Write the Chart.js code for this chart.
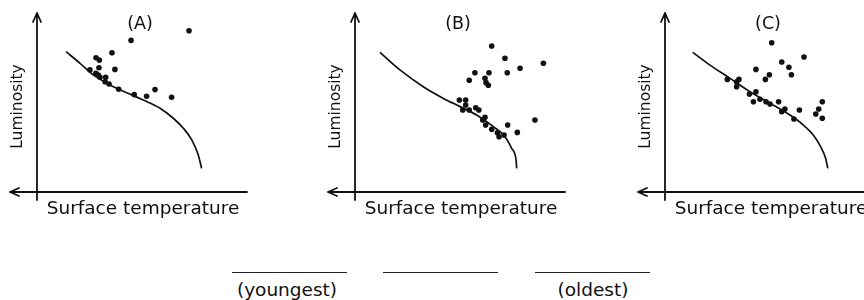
<!DOCTYPE html>
<html>
<head>
<meta charset="utf-8">
<script src="https://cdn.jsdelivr.net/npm/chart.js@4.4.0/dist/chart.umd.min.js"></script>
<style>
  html,body{margin:0;padding:0;background:#fff;overflow:hidden;width:864px;height:300px;}
  canvas{position:absolute;top:0;}
  .blank{position:absolute;top:272px;height:0;border-top:1.6px solid #222;}
  .lbl{position:absolute;top:279px;font-family:"DejaVu Sans",sans-serif;font-size:18.5px;color:#111;transform:translateX(-50%);white-space:nowrap;}
</style>
</head>
<body>
<canvas id="a" width="290" height="230" style="left:0px"></canvas>
<canvas id="b" width="290" height="230" style="left:318px"></canvas>
<canvas id="c" width="290" height="230" style="left:628px"></canvas>

<div class="blank" style="left:232px;width:115px"></div>
<div class="blank" style="left:383px;width:115px"></div>
<div class="blank" style="left:535px;width:115px"></div>
<div class="lbl" style="left:287px">(youngest)</div>
<div class="lbl" style="left:593px">(oldest)</div>

<script>
// main sequence curve (same axes units 0-100 for every panel)
let curveAX = [13.8,20.5,26.8,34.8,42.7,50.6,58.6,64.9,69.7,73.7,76.8,78.4];
let curveAY = [78.4,71.9,65.4,59.8,55.5,51.4,46.8,41.2,35.6,29.1,20.7,13.2];
let curveBX = [11.9,21.4,32.5,42.1,50.0,57.9,65.9,71.4,74.6,76.7,77.0];
let curveBY = [78.0,68.2,58.8,52.3,47.7,43.0,36.5,30.9,24.4,17.9,13.2];
let curveCX = [13.2,21.4,31.0,40.5,50.0,59.5,65.9,70.6,74.1,76.5,77.5];
let curveCY = [78.0,70.9,63.5,56.0,49.6,43.0,37.4,31.8,25.3,18.8,13.2];

// stars
let starsAX = [72.4,44.8,35.7,28.1,29.7,37.1,29.5,25.2,28.0,29.2,30.0,32.7,32.4,34.3,38.9,46.3,52.2,56.2,64.1];
let starsAY = [90.1,84.7,77.8,75.0,73.7,68.5,69.4,68.2,66.3,65.4,64.1,64.1,61.6,60.3,57.4,54.4,53.5,57.2,52.9];
let starsBX = [65.1,71.4,89.7,78.6,57.1,63.8,72.5,54.4,61.9,62.4,63.5,49.7,52.7,52.7,51.3,54.4,57.5,59.0,61.9,60.8,62.2,65.1,67.8,68.6,71.0,72.7,77.3,85.7];
let starsBY = [81.6,74.7,71.9,69.1,66.6,66.6,66.6,62.4,63.5,61.1,59.6,51.4,51.4,48.6,45.8,45.8,47.1,45.8,41.7,40.2,37.4,35.0,33.1,30.9,31.8,37.4,33.3,40.2];
let starsCX = [50.8,66.2,55.6,59.0,60.2,43.3,49.7,47.8,29.7,35.2,34.1,34.1,43.3,40.2,42.1,45.2,48.1,50.0,54.1,57.1,55.6,61.4,64.0,74.9,73.2,71.8,74.9];
let starsCY = [83.4,75.4,72.6,69.7,65.5,68.5,65.5,62.9,62.9,62.9,61.5,58.8,56.0,54.7,50.4,51.8,50.4,49.2,50.4,46.4,44.9,40.8,45.8,50.4,46.4,43.6,41.2];

let panelNames = ["(A)","(B)","(C)"];
let xTitle = "Surface temperature";
let yTitle = "Luminosity";

let ink = "#111";
let font = '"DejaVu Sans", sans-serif';

function pts(xs,ys){ return xs.map((x,i)=>({x:x,y:ys[i]})); }

let axesPlugin = {
  id:"hrAxes",
  beforeDatasetsDraw(chart){
    let ctx = chart.ctx;
    let sx = chart.scales.x, sy = chart.scales.y;
    let x0 = sx.getPixelForValue(0), y0 = sy.getPixelForValue(0);
    let xr = sx.getPixelForValue(100), yt = sy.getPixelForValue(100);
    ctx.save();
    ctx.strokeStyle = ink;
    ctx.lineWidth = 1.8;
    ctx.lineCap = "round";
    ctx.lineJoin = "round";
    // vertical axis with arrow at top
    ctx.beginPath();
    ctx.moveTo(x0, y0+8); ctx.lineTo(x0, yt);
    ctx.moveTo(x0-4, yt+9); ctx.lineTo(x0, yt); ctx.lineTo(x0+4, yt+9);
    // horizontal axis with arrow at left
    let xl = x0-27;
    ctx.moveTo(xr, y0); ctx.lineTo(xl, y0);
    ctx.moveTo(xl+9, y0-4); ctx.lineTo(xl, y0); ctx.lineTo(xl+9, y0+4);
    ctx.stroke();
    // texts
    ctx.fillStyle = ink;
    ctx.textAlign = "center";
    ctx.textBaseline = "middle";
    ctx.font = "17.5px " + font;
    ctx.fillText(chart.options.plugins.hrAxes.name, x0+103, 24);
    ctx.font = "18.5px " + font;
    ctx.fillText(xTitle, x0+106, y0+17);
    ctx.save();
    ctx.translate(x0-19, (y0+yt)/2+4);
    ctx.rotate(-Math.PI/2);
    ctx.font = "15.5px " + font;
    ctx.fillText(yTitle, 0, 0);
    ctx.restore();
    ctx.restore();
  }
};

function makePanel(id, name, cx, cy, sx, sy){
  let ctx = document.getElementById(id).getContext("2d");
  return new Chart(ctx,{
    type:"scatter",
    data:{
      datasets:[
        {label:"curve",data:pts(cx,cy),showLine:true,borderColor:ink,borderWidth:1.7,pointRadius:0,cubicInterpolationMode:"monotone",fill:false},
        {label:"stars",data:pts(sx,sy),backgroundColor:ink,borderColor:ink,pointRadius:2.8,borderWidth:0}
      ]
    },
    options:{
      responsive:false,
      animation:false,
      layout:{padding:{left:37,right:43,top:13,bottom:38}},
      scales:{
        x:{type:"linear",min:0,max:100,display:false},
        y:{type:"linear",min:0,max:100,display:false}
      },
      plugins:{legend:{display:false},tooltip:{enabled:false},title:{display:false},hrAxes:{name:name}}
    },
    plugins:[axesPlugin]
  });
}

makePanel("a", panelNames[0], curveAX, curveAY, starsAX, starsAY);
makePanel("b", panelNames[1], curveBX, curveBY, starsBX, starsBY);
makePanel("c", panelNames[2], curveCX, curveCY, starsCX, starsCY);
</script>
</body>
</html>
